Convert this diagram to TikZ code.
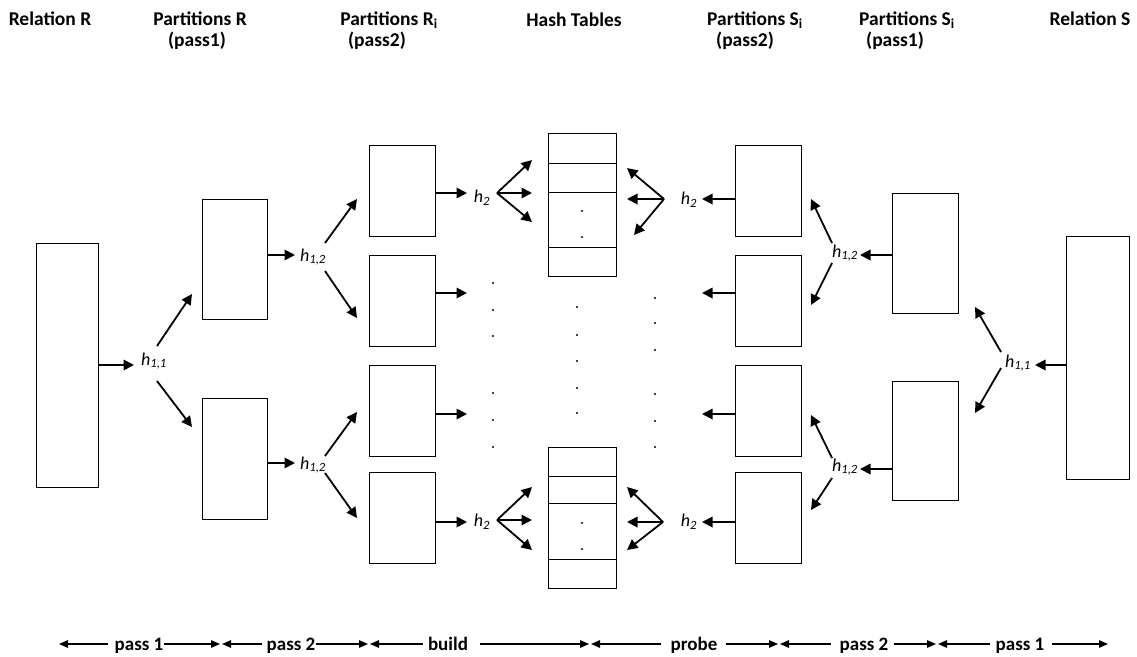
\documentclass[tikz,border=0pt]{standalone}
\usepackage{fontspec}
\setmainfont{Carlito}
\usetikzlibrary{arrows.meta}
\begin{document}
\begin{tikzpicture}[x=1pt,y=-1pt,
  box/.style={draw, line width=1.3pt, inner sep=0pt, anchor=north west},
  arr/.style={line width=1.8pt, -{Triangle[length=10.5pt,width=10.5pt]}},
  barr/.style={line width=1.3pt, -{Triangle[length=9pt,width=7.5pt]}},
  head/.style={font=\fontsize{19.5}{22}\selectfont\bfseries, anchor=base, inner sep=0pt},
  foot/.style={font=\fontsize{19}{22}\selectfont\bfseries, anchor=base, inner sep=0pt},
  hl/.style={font=\fontsize{18}{20}\selectfont\itshape, inner sep=0pt},
  dot/.style={circle, fill, inner sep=0pt, minimum size=2.4pt},
]
\useasboundingbox (0,0) rectangle (1137,656);

% ---------- column headers ----------
\node[head] (hR)   at (50,25)   {Relation R};
\node[head] (hP1a) at (200,25)  {Partitions R};
\node[head] (hP1b) at (197,46)  {(pass1)};
\node[head] (hP2a) at (389,25)  {Partitions R\textsubscript{i}};
\node[head] (hP2b) at (377,46)  {(pass2)};
\node[head] (hHT)  at (574,26)  {Hash Tables};
\node[head] (hQ2a) at (755,25)  {Partitions S\textsubscript{i}};
\node[head] (hQ2b) at (745,46)  {(pass2)};
\node[head] (hQ1a) at (907,25)  {Partitions S\textsubscript{i}};
\node[head] (hQ1b) at (895,46)  {(pass1)};
\node[head] (hS)   at (1090,25) {Relation S};

% ---------- relation R and its partitions ----------
\node[box, minimum width=62pt, minimum height=244pt] (relR) at (36,243) {};
\node[box, minimum width=65pt, minimum height=120pt] (r1a) at (202,199) {};
\node[box, minimum width=65pt, minimum height=121pt] (r1b) at (202,398) {};
\node[box, minimum width=66pt, minimum height=91pt] (r2a) at (369,145) {};
\node[box, minimum width=66pt, minimum height=91pt] (r2b) at (369,255) {};
\node[box, minimum width=66pt, minimum height=91pt] (r2c) at (369,365) {};
\node[box, minimum width=66pt, minimum height=91pt] (r2d) at (369,472) {};

% ---------- hash tables ----------
\node[box, minimum width=68pt, minimum height=30pt] (ta1) at (548,133) {};
\node[box, minimum width=68pt, minimum height=29pt] (ta2) at (548,163) {};
\node[box, minimum width=68pt, minimum height=55pt] (ta3) at (548,192) {};
\node[box, minimum width=68pt, minimum height=29pt] (ta4) at (548,247) {};
\node[box, minimum width=68pt, minimum height=29pt] (tb1) at (548,447) {};
\node[box, minimum width=68pt, minimum height=27pt] (tb2) at (548,476) {};
\node[box, minimum width=68pt, minimum height=56pt] (tb3) at (548,503) {};
\node[box, minimum width=68pt, minimum height=29pt] (tb4) at (548,559) {};

% ---------- relation S and its partitions ----------
\node[box, minimum width=66pt, minimum height=91pt] (s2a) at (735,145) {};
\node[box, minimum width=66pt, minimum height=91pt] (s2b) at (735,255) {};
\node[box, minimum width=66pt, minimum height=91pt] (s2c) at (735,365) {};
\node[box, minimum width=66pt, minimum height=91pt] (s2d) at (735,472) {};
\node[box, minimum width=66pt, minimum height=120pt] (s1a) at (892,193) {};
\node[box, minimum width=66pt, minimum height=119pt] (s1b) at (892,381) {};
\node[box, minimum width=63pt, minimum height=243pt] (relS) at (1066,236) {};

% ---------- hash function labels ----------
\node[hl] (h11L)  at (154,361)  {h\textsubscript{1,1}};
\node[hl] (h12La) at (313,257)  {h\textsubscript{1,2}};
\node[hl] (h12Lb) at (313,465)  {h\textsubscript{1,2}};
\node[hl] (h2La)  at (482,198)  {h\textsubscript{2}};
\node[hl] (h2Lb)  at (482,522)  {h\textsubscript{2}};
\node[hl] (h2Ra)  at (689,200)  {h\textsubscript{2}};
\node[hl] (h2Rb)  at (689,522)  {h\textsubscript{2}};
\node[hl] (h12Ra) at (845,253)  {h\textsubscript{1,2}};
\node[hl] (h12Rb) at (845,467)  {h\textsubscript{1,2}};
\node[hl] (h11R)  at (1018,363) {h\textsubscript{1,1}};

% ---------- arrow end points ----------
\coordinate (e0)  at (134,365);
\coordinate (e1)  at (295,255);
\coordinate (e2)  at (295,463);
\coordinate (e3)  at (467,193);
\coordinate (e4)  at (467,293);
\coordinate (e5)  at (467,414);
\coordinate (e6)  at (467,522);
\coordinate (g3)  at (702,199);
\coordinate (g4)  at (702,293);
\coordinate (g5)  at (702,414);
\coordinate (g6)  at (702,522);
\coordinate (g1)  at (860,255);
\coordinate (g2)  at (860,469);
\coordinate (g0)  at (1035,365);

% fan origins and tips, R side
\coordinate (o11u) at (157,346); \coordinate (t11u) at (192,294);
\coordinate (o11d) at (157,381); \coordinate (t11d) at (192,427);
\coordinate (oAu)  at (325,243); \coordinate (tAu)  at (357,199);
\coordinate (oAd)  at (325,271); \coordinate (tAd)  at (357,318);
\coordinate (oBu)  at (325,456); \coordinate (tBu)  at (357,412);
\coordinate (oBd)  at (325,473); \coordinate (tBd)  at (357,518);
\coordinate (oC)   at (497,193);
\coordinate (tCu)  at (532,160); \coordinate (tCm) at (532,193); \coordinate (tCd) at (532,222);
\coordinate (oD)   at (497,520);
\coordinate (tDu)  at (532,487); \coordinate (tDm) at (532,520); \coordinate (tDd) at (532,550);
% fan origins and tips, S side
\coordinate (oE)   at (664,199);
\coordinate (tEu)  at (627,168); \coordinate (tEm) at (627,199); \coordinate (tEd) at (634,235);
\coordinate (oF)   at (663,522);
\coordinate (tFu)  at (627,487); \coordinate (tFm) at (627,522); \coordinate (tFd) at (627,550);
\coordinate (oGu)  at (832,243); \coordinate (tGu)  at (811,199);
\coordinate (oGd)  at (832,263); \coordinate (tGd)  at (811,305);
\coordinate (oHu)  at (832,458); \coordinate (tHu)  at (811,415);
\coordinate (oHd)  at (832,478); \coordinate (tHd)  at (811,510);
\coordinate (o1u)  at (1001,352); \coordinate (t1u) at (975,307);
\coordinate (o1d)  at (1001,368); \coordinate (t1d) at (975,413);

% ---------- arrows, build side ----------
\draw[arr] (relR.east |- e0) -- (e0);
\draw[arr] (o11u) -- (t11u);
\draw[arr] (o11d) -- (t11d);
\draw[arr] (r1a.east |- e1) -- (e1);
\draw[arr] (r1b.east |- e2) -- (e2);
\draw[arr] (oAu) -- (tAu);
\draw[arr] (oAd) -- (tAd);
\draw[arr] (oBu) -- (tBu);
\draw[arr] (oBd) -- (tBd);
\draw[arr] (r2a.east |- e3) -- (e3);
\draw[arr] (r2b.east |- e4) -- (e4);
\draw[arr] (r2c.east |- e5) -- (e5);
\draw[arr] (r2d.east |- e6) -- (e6);
\draw[arr] (oC) -- (tCu);
\draw[arr] (oC) -- (tCm);
\draw[arr] (oC) -- (tCd);
\draw[arr] (oD) -- (tDu);
\draw[arr] (oD) -- (tDm);
\draw[arr] (oD) -- (tDd);

% ---------- arrows, probe side ----------
\draw[arr] (s2a.west |- g3) -- (g3);
\draw[arr] (s2b.west |- g4) -- (g4);
\draw[arr] (s2c.west |- g5) -- (g5);
\draw[arr] (s2d.west |- g6) -- (g6);
\draw[arr] (oE) -- (tEu);
\draw[arr] (oE) -- (tEm);
\draw[arr] (oE) -- (tEd);
\draw[arr] (oF) -- (tFu);
\draw[arr] (oF) -- (tFm);
\draw[arr] (oF) -- (tFd);
\draw[arr] (s1a.west |- g1) -- (g1);
\draw[arr] (s1b.west |- g2) -- (g2);
\draw[arr] (oGu) -- (tGu);
\draw[arr] (oGd) -- (tGd);
\draw[arr] (oHu) -- (tHu);
\draw[arr] (oHd) -- (tHd);
\draw[arr] (relS.west |- g0) -- (g0);
\draw[arr] (o1u) -- (t1u);
\draw[arr] (o1d) -- (t1d);

% ---------- elision dots ----------
\foreach \y [count=\i] in {283,310,336,393,420,447} \node[dot] (dl\i) at (493,\y) {};
\foreach \y [count=\i] in {307,335,361,388,413}     \node[dot] (dm\i) at (577,\y) {};
\foreach \y [count=\i] in {298,323,350,394,421,447} \node[dot] (dr\i) at (655,\y) {};
\foreach \y [count=\i] in {211,237,523,549}         \node[dot] (dt\i) at (582,\y) {};

% ---------- phase ruler ----------
\node[foot] (p1) at (139,650) {pass 1};
\node[foot] (p2) at (291,650) {pass 2};
\node[foot] (pb) at (448,650) {build};
\node[foot] (pp) at (694,650) {probe};
\node[foot] (q2) at (864,650) {pass 2};
\node[foot] (q1) at (1020,650) {pass 1};

\coordinate (k0) at (59,644);
\coordinate (k1) at (220,644);
\coordinate (k2) at (368,644);
\coordinate (k3) at (589,644);
\coordinate (k4) at (778,644);
\coordinate (k5) at (936,644);
\coordinate (k6) at (1108,644);

\draw[barr] ([xshift=-6pt]p1.west |- k0) -- (k0);
\draw[barr] (p1.east |- k1) -- (k1);
\draw[barr] ([xshift=-4pt]p2.west |- k1) -- ([xshift=2pt]k1);
\draw[barr] (p2.east |- k2) -- (k2);
\draw[barr] ([xshift=-5pt]pb.west |- k2) -- ([xshift=2pt]k2);
\draw[barr] ([xshift=12pt]pb.east |- k3) -- (k3);
\draw[barr] ([xshift=-9pt]pp.west |- k3) -- ([xshift=2pt]k3);
\draw[barr] ([xshift=8pt]pp.east |- k4) -- (k4);
\draw[barr] ([xshift=-8pt]q2.west |- k4) -- ([xshift=2pt]k4);
\draw[barr] ([xshift=5pt]q2.east |- k5) -- (k5);
\draw[barr] ([xshift=-5pt]q1.west |- k5) -- ([xshift=2pt]k5);
\draw[barr] ([xshift=7pt]q1.east |- k6) -- (k6);
\end{tikzpicture}
\end{document}
